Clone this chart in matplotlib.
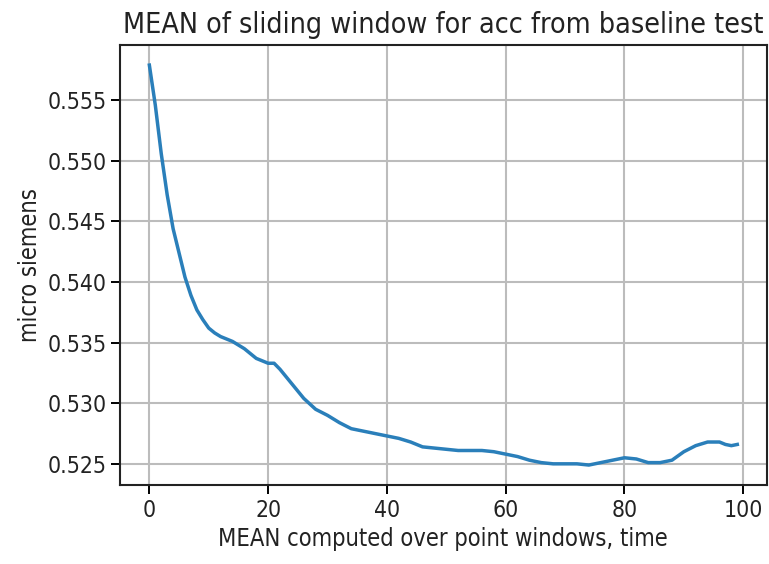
import matplotlib
matplotlib.use("Agg")
import matplotlib.pyplot as plt
from matplotlib import font_manager

# valores (janela deslizante, media)
x_time = [0, 1, 2, 3, 4, 5, 6, 7, 8, 9, 10, 11, 12, 14, 16, 18, 20, 21, 22, 24, 26,
          28, 30, 32, 34, 36, 38, 40, 42, 44, 46, 48, 50, 52, 54, 56, 58, 60, 62,
          64, 66, 68, 70, 72, 74, 76, 78, 80, 82, 84, 86, 88, 90, 92, 94, 96, 97,
          98, 99]
mean_acc = [0.5579, 0.5546, 0.5506, 0.5472, 0.5444, 0.5424, 0.5404, 0.5389,
            0.5377, 0.5369, 0.5362, 0.5358, 0.5355, 0.5351, 0.5345, 0.5337, 0.5333,
            0.5333, 0.5328, 0.5316, 0.5304, 0.5295, 0.5290, 0.5284, 0.5279,
            0.5277, 0.5275, 0.5273, 0.5271, 0.5268, 0.5264, 0.5263, 0.5262,
            0.5261, 0.5261, 0.5261, 0.5260, 0.5258, 0.5256, 0.5253, 0.5251,
            0.5250, 0.5250, 0.5250, 0.5249, 0.5251, 0.5253, 0.5255, 0.5254,
            0.5251, 0.5251, 0.5253, 0.5260, 0.5265, 0.5268, 0.5268, 0.5266,
            0.5265, 0.5266]

x_ticks = [0, 20, 40, 60, 80, 100]
y_ticks = [0.525, 0.530, 0.535, 0.540, 0.545, 0.550, 0.555]

# procura uma fonte condensada (o original parece esticado na vertical)
fam = "DejaVu Sans"
stretch = "normal"
for f in font_manager.fontManager.ttflist:
    if "DejaVu" in f.name and "Sans" in f.name and "ondensed" in f.fname and "Bold" not in f.fname and "Oblique" not in f.fname:
        fam = f.name
        stretch = "condensed"
        break
plt.rcParams["font.family"] = [fam, "DejaVu Sans"]
plt.rcParams["font.stretch"] = stretch

fig = plt.figure(figsize=(7.69, 5.64), dpi=100)
ax = fig.add_axes([0.156, 0.140, 0.841, 0.780])

ax.plot(x_time, mean_acc, color="#2a7fba", linewidth=2.5)
ax.set_title("MEAN of sliding window for acc from baseline test", fontsize=20.5, color="#222222", pad=9)
ax.set_xlabel("MEAN computed over point windows, time", fontsize=17, color="#222222")
ax.set_ylabel("micro siemens", fontsize=17, color="#222222")
ax.set_xticks(x_ticks)
ax.set_yticks(y_ticks)
ax.tick_params(labelsize=16.5, length=6.3, width=1.4, labelcolor="#222222")
ax.grid(True, color="#bcbcbc", linewidth=1.5)
for s in ax.spines.values():
    s.set_linewidth(1.5)
    s.set_color("#222222")

fig.savefig("out.png", dpi=100)
